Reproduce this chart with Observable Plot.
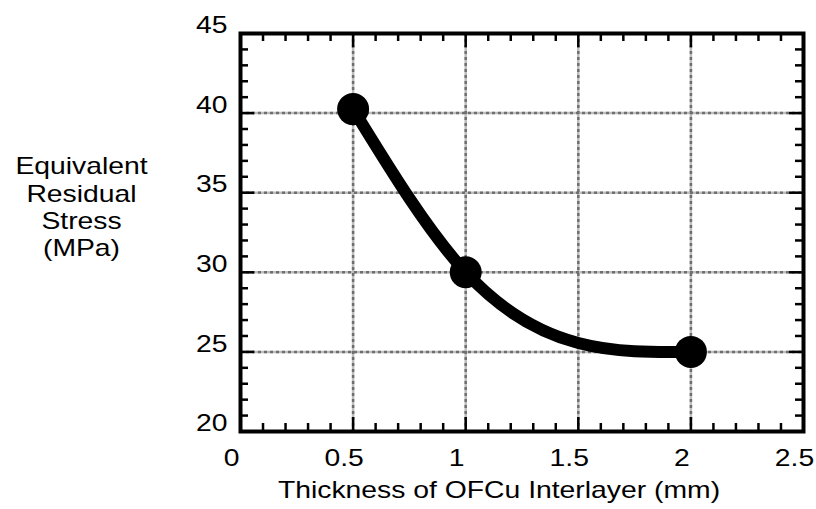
<!DOCTYPE html>
<html><head><meta charset="utf-8">
<script src="https://cdn.jsdelivr.net/npm/d3@7"></script>
<script src="https://cdn.jsdelivr.net/npm/@observablehq/plot@0.6"></script>
<style>
body{margin:0;background:#fff;}
svg{font-family:"Liberation Sans",Arial,Helvetica,sans-serif;}
</style>
</head><body><div id="chart"></div>
<script>
// Data
const thickness = [0.5, 1, 2];          // mm
const stress = [40.25, 30, 25];         // MPa
const xTickValues = [0, 0.5, 1, 1.5, 2, 2.5];
const xTickLabels = ["0", "0.5", "1", "1.5", "2", "2.5"];
const yTickValues = [20, 25, 30, 35, 40, 45];
const yTickLabels = ["20", "25", "30", "35", "40", "45"];
const xGridValues = [0.5, 1, 1.5, 2];
const yGridValues = [25, 30, 35, 40];
const xMinorTicks = [0.1,0.2,0.3,0.4,0.6,0.7,0.8,0.9,1.1,1.2,1.3,1.4,1.6,1.7,1.8,1.9,2.1,2.2,2.3,2.4];
const yMinorTicks = [21,22,23,24,26,27,28,29,31,32,33,34,36,37,38,39,41,42,43,44];
const xMajorTicks = [0.5, 1, 1.5, 2];
const yMajorTicks = [25, 30, 35, 40];
const xTitle = "Thickness of OFCu Interlayer (mm)";
const yTitle = "Equivalent\nResidual\nStress\n(MPa)";

const data = thickness.map((t, i) => ({t, s: stress[i]}));

// natural cubic spline as a function of x
function curveNaturalX(context) {
  let xs, ys;
  return {
    areaStart(){}, areaEnd(){},
    lineStart(){ xs = []; ys = []; },
    point(x, y){ xs.push(+x); ys.push(+y); },
    lineEnd(){
      const n = xs.length;
      if (!n) return;
      context.moveTo(xs[0], ys[0]);
      if (n === 1) return;
      if (n === 2) { context.lineTo(xs[1], ys[1]); return; }
      const h = [], s = [];
      for (let i = 0; i < n - 1; i++) { h[i] = xs[i+1] - xs[i]; s[i] = (ys[i+1] - ys[i]) / h[i]; }
      const M = new Array(n).fill(0);
      const a = [], b = [], c = [], r = [];
      for (let i = 1; i < n - 1; i++) { a[i] = h[i-1]; b[i] = 2 * (h[i-1] + h[i]); c[i] = h[i]; r[i] = 6 * (s[i] - s[i-1]); }
      for (let i = 2; i < n - 1; i++) { const w = a[i] / b[i-1]; b[i] -= w * c[i-1]; r[i] -= w * r[i-1]; }
      for (let i = n - 2; i >= 1; i--) { M[i] = (r[i] - (i < n - 2 ? c[i] * M[i+1] : 0)) / b[i]; }
      const m = [];
      for (let i = 0; i < n - 1; i++) m[i] = s[i] - h[i] * (2 * M[i] + M[i+1]) / 6;
      m[n-1] = s[n-2] + h[n-2] * (M[n-2] + 2 * M[n-1]) / 6;
      for (let i = 0; i < n - 1; i++) {
        context.bezierCurveTo(xs[i] + h[i]/3, ys[i] + m[i]*h[i]/3, xs[i+1] - h[i]/3, ys[i+1] - m[i+1]*h[i]/3, xs[i+1], ys[i+1]);
      }
    }
  };
}

const W = 816, H = 509, mL = 240, mR = 13, mT = 33, mB = 78;
const innerW = W - mL - mR, innerH = H - mT - mB;
const minorLen = 8, majorLen = 14;
const FS = 24;

const gridBase = {stroke: "#bdbdbd", strokeOpacity: 1, strokeWidth: 2.5};
const gridDash = {stroke: "#6f6f6f", strokeOpacity: 1, strokeWidth: 2.5, strokeDasharray: "3,3"};
const tickStyle = {stroke: "black", strokeWidth: 2.5};

const chart = Plot.plot({
  width: W, height: H,
  marginLeft: mL, marginRight: mR, marginTop: mT, marginBottom: mB,
  x: {domain: [0, 2.5], label: null},
  y: {domain: [20, 45], label: null},
  marks: [
    Plot.gridX(xGridValues, gridBase),
    Plot.gridY(yGridValues, gridBase),
    Plot.gridX(xGridValues, gridDash),
    Plot.gridY(yGridValues, gridDash),
    // inward ticks, bottom & top
    Plot.tickX(xMinorTicks, {x: d => d, insetTop: innerH - minorLen, ...tickStyle}),
    Plot.tickX(xMinorTicks, {x: d => d, insetBottom: innerH - minorLen, ...tickStyle}),
    Plot.tickX(xMajorTicks, {x: d => d, insetTop: innerH - majorLen, ...tickStyle}),
    Plot.tickX(xMajorTicks, {x: d => d, insetBottom: innerH - majorLen, ...tickStyle}),
    // inward ticks, left & right
    Plot.tickY(yMinorTicks, {y: d => d, insetRight: innerW - minorLen, ...tickStyle}),
    Plot.tickY(yMinorTicks, {y: d => d, insetLeft: innerW - minorLen, ...tickStyle}),
    Plot.tickY(yMajorTicks, {y: d => d, insetRight: innerW - majorLen, ...tickStyle}),
    Plot.tickY(yMajorTicks, {y: d => d, insetLeft: innerW - majorLen, ...tickStyle}),
    Plot.line(data, {x: "t", y: "s", curve: curveNaturalX, stroke: "black", strokeWidth: 12, strokeLinecap: "round"}),
    Plot.dot(data, {x: "t", y: "s", r: 16, fill: "black", stroke: null}),
    Plot.frame({stroke: "black", strokeWidth: 4}),
    Plot.axisX(xTickValues, {tickSize: 0, tickPadding: 17, fontSize: FS, dx: -9,
      tickFormat: d => xTickLabels[xTickValues.indexOf(d)], label: null, fill: "black"}),
    Plot.axisY(yTickValues, {tickSize: 0, tickPadding: 13, fontSize: FS, dy: -8,
      tickFormat: d => yTickLabels[yTickValues.indexOf(d)], label: null, fill: "black"}),
    Plot.text([yTitle], {text: d => d, frameAnchor: "left", dx: -159, dy: -26, fontSize: FS, lineHeight: 1.14, textAnchor: "middle", fill: "black"}),
    Plot.text([xTitle], {text: d => d, frameAnchor: "bottom", dx: -23, dy: 66, fontSize: FS, textAnchor: "middle", fill: "black"})
  ]
});
document.getElementById("chart").appendChild(chart);

// widen glyphs to match the reference's horizontally stretched lettering
const STRETCH = 1.18;
chart.querySelectorAll("text").forEach(t => {
  const spans = t.querySelectorAll("tspan");
  const els = spans.length ? Array.from(spans) : [t];
  els.forEach(el => {
    const w = el.getComputedTextLength();
    if (w > 0) {
      el.setAttribute("textLength", (w * STRETCH).toFixed(2));
      el.setAttribute("lengthAdjust", "spacingAndGlyphs");
    }
  });
});
</script>
</body></html>
